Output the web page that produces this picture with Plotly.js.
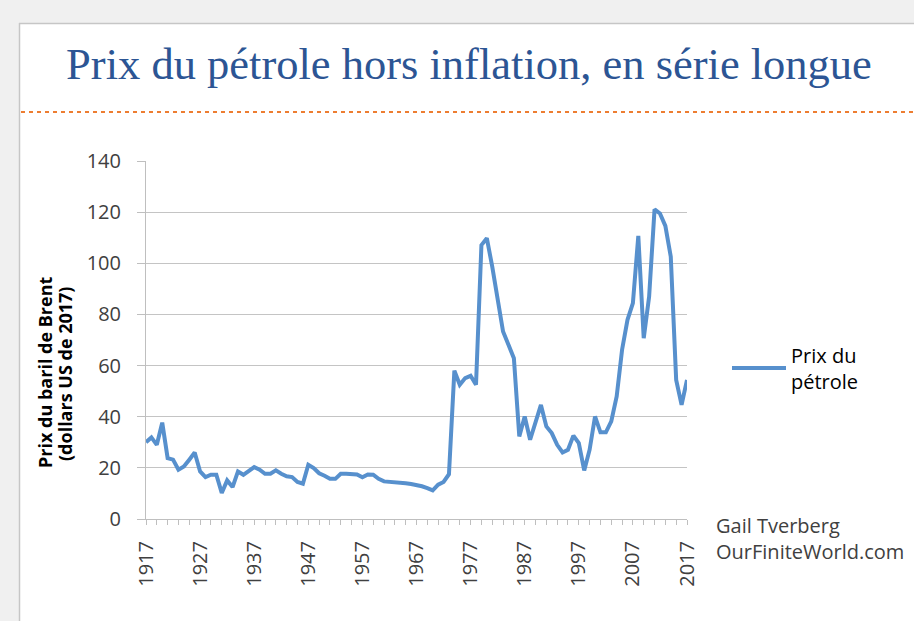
<!DOCTYPE html>
<html>
<head>
<meta charset="utf-8">
<script src="https://cdn.plot.ly/plotly-3.0.1.min.js"></script>
<style>
html,body{margin:0;padding:0;background:#ffffff;}
#chart{width:914px;height:621px;}
</style>
</head>
<body>
<div id="chart"></div>
<script>
var years = [1917,1918,1919,1920,1921,1922,1923,1924,1925,1926,
             1927,1928,1929,1930,1931,1932,1933,1934,1935,1936,
             1937,1938,1939,1940,1941,1942,1943,1944,1945,1946,
             1947,1948,1949,1950,1951,1952,1953,1954,1955,1956,
             1957,1958,1959,1960,1961,1962,1963,1964,1965,1966,
             1967,1968,1969,1970,1971,1972,1973,1974,1975,1976,
             1977,1978,1979,1980,1981,1982,1983,1984,1985,1986,
             1987,1988,1989,1990,1991,1992,1993,1994,1995,1996,
             1997,1998,1999,2000,2001,2002,2003,2004,2005,2006,
             2007,2008,2009,2010,2011,2012,2013,2014,2015,2016,
             2017];
var prixPetrole = [30.0,31.9,29.0,37.7,23.8,23.2,19.3,20.5,23.2,26.0,
                   18.6,16.4,17.3,17.3,10.2,15.1,12.5,18.6,17.3,19.0,
                   20.3,19.3,17.7,17.7,19.0,17.7,16.7,16.4,14.5,13.8,
                   21.2,19.9,17.9,16.9,15.7,15.7,17.7,17.7,17.7,17.4,
                   16.3,17.4,17.3,15.7,14.7,14.6,14.4,14.3,14.0,13.7,
                   13.3,12.8,12.1,11.2,13.4,14.5,17.5,58.0,52.5,55.1,
                   56.0,52.5,107.1,109.8,98.7,87.0,73.3,68.1,62.9,32.3,
                   40.1,31.0,37.5,44.6,36.2,33.6,29.0,26.0,27.1,32.6,
                   29.7,19.0,27.1,40.1,33.9,33.9,38.2,47.9,66.2,77.9,
                   84.4,110.7,70.7,87.0,121.1,119.5,114.6,102.6,54.4,44.6,
                   54.4];
var xTickLabels = ['1917','1927','1937','1947','1957','1967','1977','1987','1997','2007','2017'];
var yTickValues = [0,20,40,60,80,100,120,140];
var seriesName = 'Prix du<br>pétrole';
var chartTitle = 'Prix du pétrole hors inflation, en série longue';
var yTitleLine1 = 'Prix du baril de Brent';
var yTitleLine2 = '(dollars US de 2017)';
var creditText = 'Gail Tverberg<br>OurFiniteWorld.com';

var xTickValues = xTickLabels.map(function(s){return Number(s);});

var W = 914, H = 621, ML = 146, MR = 227, MT = 161, MB = 102;
var PW = W - ML - MR, PH = H - MT - MB;
function px(x){ return (x - ML) / PW; }
function py(y){ return (H - MB - y) / PH; }

var sansFont = 'Open Sans, Liberation Sans, sans-serif';

var trace = {
  x: years,
  y: prixPetrole,
  type: 'scatter',
  mode: 'lines',
  name: seriesName,
  line: {color: '#5790cd', width: 4}
};

var layout = {
  width: W, height: H,
  margin: {l: ML, r: MR, t: MT, b: MB, pad: 0},
  paper_bgcolor: '#ffffff',
  plot_bgcolor: '#ffffff',
  title: {
    text: chartTitle,
    font: {family: 'Liberation Serif, serif', size: 44.5, color: '#2c5594'},
    xref: 'container', yref: 'container',
    x: 469 / W, xanchor: 'center',
    y: 1 - 63 / H, yanchor: 'middle'
  },
  xaxis: {
    range: [1917, 2017],
    tickvals: xTickValues,
    ticktext: xTickLabels,
    tickangle: -90,
    ticks: 'outside', ticklen: 5, tickcolor: '#bfbfbf', tickwidth: 1,
    minor: {dtick: 2, tick0: 1917, ticks: 'outside', ticklen: 5, tickcolor: '#bfbfbf', tickwidth: 1, showgrid: false},
    showgrid: false, zeroline: false,
    showline: true, linecolor: '#bfbfbf', linewidth: 1,
    tickfont: {family: sansFont, size: 20, color: '#404040'},
    ticklabelstandoff: 8
  },
  yaxis: {
    range: [0, 140],
    tickvals: yTickValues,
    ticks: 'outside', ticklen: 8, tickcolor: '#bfbfbf', tickwidth: 1,
    showgrid: true, gridcolor: '#c4c4c4', gridwidth: 1,
    zeroline: false,
    showline: true, linecolor: '#bfbfbf', linewidth: 1,
    tickfont: {family: sansFont, size: 20, color: '#404040'},
    ticklabelstandoff: 12
  },
  showlegend: true,
  legend: {
    x: px(727), xanchor: 'left',
    y: py(368), yanchor: 'middle',
    bgcolor: 'rgba(0,0,0,0)',
    font: {family: sansFont, size: 20, color: '#000000'},
    itemwidth: 54,
    valign: 'middle'
  },
  shapes: [
    {type: 'rect', xref: 'paper', yref: 'paper', x0: px(0), x1: px(19), y0: py(H), y1: py(0), fillcolor: '#f0f0f0', line: {width: 0}, layer: 'below'},
    {type: 'rect', xref: 'paper', yref: 'paper', x0: px(0), x1: px(W), y0: py(23), y1: py(0), fillcolor: '#f0f0f0', line: {width: 0}, layer: 'below'},
    {type: 'line', xref: 'paper', yref: 'paper', x0: px(19.5), x1: px(19.5), y0: py(23), y1: py(H), line: {color: '#c6c6c6', width: 1.5}},
    {type: 'line', xref: 'paper', yref: 'paper', x0: px(19), x1: px(W), y0: py(23.5), y1: py(23.5), line: {color: '#c6c6c6', width: 1.5}},
    {type: 'line', xref: 'paper', yref: 'paper', x0: px(21), x1: px(W), y0: py(112), y1: py(112), line: {color: '#ed7d31', width: 2, dash: '4px,4px'}}
  ],
  annotations: [
    {text: yTitleLine1, xref: 'paper', yref: 'paper', x: px(45), y: py(373), xanchor: 'center', yanchor: 'middle',
     textangle: -90, showarrow: false, font: {family: sansFont, size: 18, color: '#000000', weight: 'bold'}},
    {text: yTitleLine2, xref: 'paper', yref: 'paper', x: px(65), y: py(374), xanchor: 'center', yanchor: 'middle',
     textangle: -90, showarrow: false, font: {family: sansFont, size: 18, color: '#000000', weight: 'bold'}},
    {text: creditText, xref: 'paper', yref: 'paper', x: px(714), y: py(538), xanchor: 'left', yanchor: 'middle',
     align: 'left', showarrow: false, font: {family: sansFont, size: 20, color: '#404040'}}
  ]
};

Plotly.newPlot('chart', [trace], layout, {displayModeBar: false, staticPlot: true});
</script>
</body>
</html>
